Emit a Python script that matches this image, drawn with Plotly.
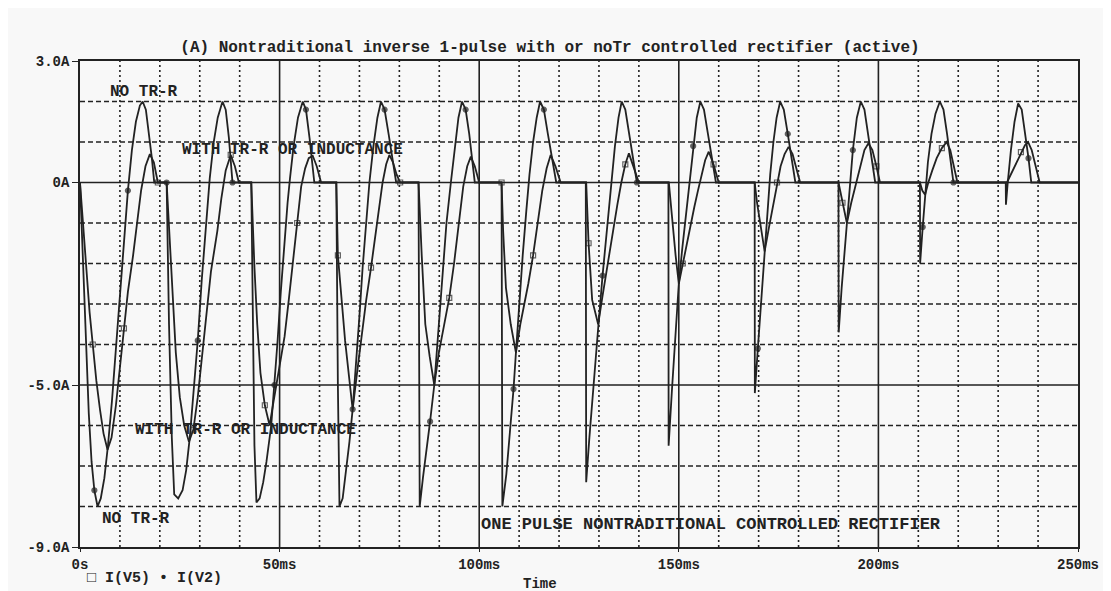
import plotly.graph_objects as go

# ---- data: (time in ms, current in A) ----
# I(V2) : "NO TR-R" (dot markers)
v2_points = [
    (0, 0), (0.7, -1.8), (1.5, -4.1), (2.2, -5.7), (2.9, -6.9), (3.6, -7.6), (4.4, -8.0), (5.2, -7.8), (6.1, -7.3),
    (7.0, -6.5), (8.0, -5.4), (9.0, -4.1), (10.0, -2.8), (11.0, -1.5), (12.0, -0.2), (13.0, 0.8), (14.0, 1.5),
    (15.0, 1.9), (15.7, 2.0), (16.5, 1.8), (17.3, 1.2), (18.0, 0.6), (18.6, 0),
    (21.7, 0), (22.3, -3.5), (23.0, -6.3), (23.6, -7.7), (24.6, -7.8), (25.7, -7.6), (26.6, -7.1), (27.5, -6.3),
    (28.5, -5.2), (29.5, -3.9), (30.5, -2.4), (31.5, -1.1), (32.5, 0.1), (33.5, 1.0), (34.5, 1.6), (35.7, 2.0),
    (36.5, 1.8), (37.3, 1.1), (38.2, 0),
    (42.9, 0), (43.3, -3.5), (43.7, -6.5), (44.2, -7.9), (45.0, -7.8), (45.9, -7.4), (46.7, -6.9), (47.9, -6.0),
    (48.7, -5.0), (49.5, -3.9), (50.3, -2.7), (51.1, -1.6), (52.0, -0.5), (52.6, 0.1), (53.5, 0.9), (54.6, 1.6),
    (55.8, 2.0), (56.6, 1.8), (57.5, 1.1), (58.7, 0),
    (64.2, 0), (64.6, -5.0), (65.0, -8.0), (65.8, -7.8), (66.7, -7.1), (67.5, -6.4), (68.3, -5.6), (69.2, -4.5),
    (70.0, -3.3), (70.8, -2.1), (71.7, -1.0), (72.5, 0.0), (73.5, 0.9), (74.5, 1.6), (75.4, 2.0), (76.3, 1.8),
    (77.3, 1.2), (78.2, 0.6), (79.2, 0),
    (84.8, 0), (84.9, -5.0), (85.1, -8.0), (85.9, -7.3), (86.7, -6.7), (87.7, -5.9), (88.75, -5.0), (89.8, -3.6),
    (90.8, -2.2), (91.8, -1.0), (92.9, 0.0), (93.9, 0.9), (94.8, 1.6), (95.7, 2.0), (96.6, 1.8), (97.5, 1.2),
    (98.2, 0.6), (98.9, 0),
    (105.6, 0), (105.7, -5.0), (105.8, -8.0), (106.8, -7.2), (107.8, -6.1), (108.6, -5.1), (109.2, -4.2),
    (110.0, -3.0), (110.9, -1.8), (111.8, -0.7), (112.6, 0.2), (113.5, 1.0), (114.4, 1.6), (115.25, 2.0),
    (116.2, 1.8), (117.2, 1.2), (118.2, 0.6), (119.3, 0),
    (126.7, 0), (126.8, -7.4), (127.6, -6.3), (128.6, -5.0), (129.8, -3.6), (130.9, -2.3), (132.0, -1.1),
    (133.0, 0.0), (134.0, 0.9), (134.9, 1.6), (135.7, 2.0), (136.6, 1.8), (137.6, 1.2), (138.5, 0.6), (139.5, 0),
    (147.4, 0), (147.45, -6.5), (148.3, -5.1), (149.1, -3.8), (150.0, -2.5), (150.9, -1.6), (151.7, -0.9),
    (152.7, 0.1), (153.6, 0.9), (154.5, 1.6), (155.4, 2.0), (156.3, 1.8), (157.3, 1.2), (158.3, 0.6), (159.3, 0),
    (169.0, 0), (169.05, -5.2), (169.8, -4.1), (170.7, -2.8), (171.5, -1.7), (172.2, -0.7), (172.9, 0.2),
    (173.7, 1.0), (174.5, 1.6), (175.4, 2.0), (176.3, 1.8), (177.3, 1.2), (178.2, 0.6), (179.2, 0),
    (190.0, 0), (190.05, -3.7), (190.8, -2.6), (191.5, -1.7), (192.1, -1.0), (192.8, -0.1), (193.6, 0.8),
    (194.6, 1.6), (195.6, 2.0), (196.5, 1.8), (197.4, 1.2), (198.3, 0.6), (199.2, 0),
    (210.4, 0), (210.45, -2.0), (211.1, -1.1), (211.7, -0.3), (212.4, 0.5), (213.3, 1.2), (214.3, 1.7),
    (215.4, 2.0), (216.3, 1.8), (217.2, 1.2), (218.0, 0.6), (218.8, 0),
    (231.9, 0), (231.95, -0.55), (232.4, 0.0), (233.2, 0.8), (234.1, 1.5), (235.0, 1.95), (235.9, 1.8),
    (236.8, 1.2), (237.6, 0.6), (238.3, 0), (250, 0),
]

# I(V5) : "WITH TR-R OR INDUCTANCE" (square markers)
v5_points = [
    (0, 0), (0.8, -1.1), (1.6, -2.2), (2.4, -3.2), (3.2, -4.0), (4.1, -4.9), (5.0, -5.6), (5.9, -6.2), (6.9, -6.6),
    (7.9, -6.3), (9.0, -5.5), (10.0, -4.6), (11.0, -3.6), (12.0, -2.7), (13.3, -1.8), (14.3, -1.0), (15.3, -0.2),
    (16.4, 0.4), (17.5, 0.7), (18.5, 0.5), (19.5, 0),
    (21.7, 0), (22.5, -1.5), (23.3, -3.0), (24.0, -4.2), (25.0, -5.3), (26.1, -6.0), (27.3, -6.4), (28.4, -6.1),
    (29.5, -5.3), (30.6, -4.3), (31.7, -3.2), (32.8, -2.2), (34.4, -1.2), (35.4, -0.4), (36.5, 0.3), (37.75, 0.68),
    (38.8, 0.4), (39.8, 0),
    (42.9, 0), (43.2, -0.9), (43.7, -2.1), (44.4, -3.5), (45.2, -4.7), (46.3, -5.5), (47.5, -6.0), (48.5, -5.4),
    (49.5, -4.8), (50.4, -4.3), (51.25, -3.8), (52.3, -2.9), (53.4, -1.9), (54.4, -1.0), (55.4, -0.1),
    (56.4, 0.35), (57.3, 0.6), (58.3, 0.66), (59.3, 0.4), (60.4, 0),
    (64.2, 0), (64.6, -1.8), (65.4, -2.8), (66.4, -3.9), (67.4, -4.8), (68.3, -5.6), (69.4, -4.7), (70.5, -3.8),
    (71.7, -2.9), (72.9, -2.1), (73.9, -1.4), (74.9, -0.6), (75.8, 0.0), (76.7, 0.45), (77.5, 0.68), (78.4, 0.5),
    (79.3, 0.2), (80.2, 0),
    (84.8, 0), (85.6, -1.8), (86.5, -3.5), (87.6, -4.3), (88.75, -5.0), (89.9, -4.2), (91.2, -3.5), (92.5, -2.85),
    (93.7, -2.0), (94.8, -1.1), (96.0, -0.1), (97.0, 0.4), (97.9, 0.64), (98.9, 0.4), (100.0, 0),
    (105.6, 0), (106.0, -1.2), (106.7, -2.6), (107.9, -3.5), (109.2, -4.2), (110.3, -3.5), (111.3, -3.0),
    (112.3, -2.5), (113.5, -1.8), (114.7, -1.0), (115.8, -0.2), (116.9, 0.35), (117.9, 0.68), (119.1, 0.4),
    (120.4, 0),
    (126.8, 0), (127.4, -1.5), (128.3, -2.9), (129.8, -3.5), (130.9, -2.8), (132.0, -2.1), (133.3, -1.3),
    (134.6, -0.55), (135.6, 0.0), (136.6, 0.45), (137.5, 0.72), (138.7, 0.4), (140.0, 0),
    (147.5, 0), (148.3, -0.9), (149.2, -1.8), (150.0, -2.5), (151.0, -2.0), (152.1, -1.5), (153.0, -1.0),
    (153.9, -0.6), (154.8, -0.2), (155.7, 0.2), (156.6, 0.55), (157.5, 0.76), (158.7, 0.45), (160.0, 0),
    (169.0, 0), (169.6, -0.5), (170.5, -1.1), (171.5, -1.7), (172.6, -1.1), (173.7, -0.5), (174.6, 0.0),
    (175.5, 0.4), (176.5, 0.7), (177.5, 0.88), (178.5, 0.7), (179.4, 0.35), (180.4, 0),
    (190.0, 0), (191.0, -0.5), (192.1, -1.0), (193.2, -0.5), (194.3, -0.05), (195.4, 0.4), (196.5, 0.8),
    (197.5, 0.97), (198.5, 0.8), (199.5, 0.4), (200.4, 0),
    (210.4, 0), (211.0, -0.2), (211.7, -0.3), (212.5, 0.0), (213.5, 0.3), (214.6, 0.6), (215.9, 0.85),
    (217.1, 1.0), (218.0, 0.8), (218.9, 0.4), (219.8, 0),
    (232.2, 0), (233.4, 0.25), (234.6, 0.5), (235.7, 0.75), (236.7, 0.92), (237.5, 1.0), (238.4, 0.8),
    (239.4, 0.4), (240.4, 0), (250, 0),
]

x_tick_vals = [0, 50, 100, 150, 200, 250]
x_tick_text = ["0s", "50ms", "100ms", "150ms", "200ms", "250ms"]
y_tick_vals = [3, 0, -5, -9]
y_tick_text = ["3.0A", "0A", "-5.0A", "-9.0A"]

title_text = "(A) Nontraditional inverse 1-pulse with or noTr controlled rectifier (active)"
labels = [
    (7, 2.23, "NO TR-R", 16),
    (25, 0.8, "WITH TR-R OR INDUCTANCE", 16),
    (13.3, -6.1, "WITH TR-R OR INDUCTANCE", 16),
    (5, -8.3, "NO TR-R", 16),
    (100, -8.45, "ONE PULSE NONTRADITIONAL CONTROLLED RECTIFIER", 17),
]

# ---- styling ----
INK = "#222222"
BG = "#f8f8f8"
FONT = "Liberation Mono"
# the page body adds an 8 px offset; figure is sized so the plot area lands at x 80-1082, y 61-547
OFF = 8
W, H = 1111 - OFF, 591 - OFF
PL, PR, PT, PB = 80 - OFF, 1082 - OFF, 61 - OFF, 547 - OFF

fig = go.Figure()


def add_series(points, name, symbol, every, offset):
    xs = [p[0] for p in points]
    ys = [p[1] for p in points]
    sizes = [5 if (i % every) == offset else 0 for i in range(len(xs))]
    fig.add_trace(go.Scatter(
        x=xs, y=ys, mode="lines+markers", name=name,
        line=dict(color=INK, width=1.8),
        marker=dict(symbol=symbol, size=sizes, color=INK,
                    line=dict(color=INK, width=1.2)),
        showlegend=False, hoverinfo="skip",
    ))


add_series(v5_points, "I(V5)", "square-open", 8, 4)
add_series(v2_points, "I(V2)", "circle", 9, 5)

shapes = []
for v in range(-8, 3):
    solid = v in (0, -5)
    shapes.append(dict(type="line", xref="x", yref="y", x0=0, x1=250, y0=v, y1=v,
                       line=dict(color=INK, width=1.4 if solid else 1.3,
                                 dash="solid" if solid else "5px,3px"),
                       layer="below"))
for t in range(10, 250, 10):
    solid = t % 50 == 0
    shapes.append(dict(type="line", xref="x", yref="y", x0=t, x1=t, y0=-9, y1=3,
                       line=dict(color=INK, width=1.6,
                                 dash="solid" if solid else "2px,3px"),
                       layer="below"))

annotations = []
for (tx, ty, txt, fs) in labels:
    annotations.append(dict(x=tx, y=ty, xref="x", yref="y", text=txt, showarrow=False,
                            xanchor="left", yanchor="middle",
                            font=dict(family=FONT, size=fs, color=INK, weight="bold")))


def px_to_paper(px, py):
    return (px - PL) / (PR - PL), (PB - py) / (PB - PT)


lx, ly = px_to_paper(85 - OFF, 578 - OFF)
annotations.append(dict(x=lx, y=ly, xref="paper", yref="paper",
                        text="\u25a1 I(V5) \u2022 I(V2)", showarrow=False,
                        xanchor="left", yanchor="middle",
                        font=dict(family=FONT, size=15, color=INK, weight="bold")))
tx_, ty_ = px_to_paper(542 - OFF, 584 - OFF)
annotations.append(dict(x=tx_, y=ty_, xref="paper", yref="paper",
                        text="Time", showarrow=False, xanchor="center", yanchor="middle",
                        font=dict(family=FONT, size=14, color=INK, weight="bold")))

fig.update_layout(
    width=W, height=H,
    margin=dict(l=PL, r=W - PR, t=PT, b=H - PB, pad=0),
    paper_bgcolor=BG, plot_bgcolor=BG,
    title=dict(text=title_text, x=(550 - OFF) / W, xanchor="center", xref="container",
               y=1 - (46 - OFF) / H, yanchor="middle", yref="container",
               font=dict(family=FONT, size=16, color=INK, weight="bold")),
    shapes=shapes, annotations=annotations,
    xaxis=dict(range=[0, 250], tickmode="array", tickvals=x_tick_vals, ticktext=x_tick_text,
               showgrid=False, zeroline=False, showline=True, mirror=True,
               linecolor=INK, linewidth=1.6, ticks="outside", ticklen=3, tickcolor=INK,
               tickfont=dict(family=FONT, size=14, color=INK, weight="bold")),
    yaxis=dict(range=[-9, 3], tickmode="array", tickvals=y_tick_vals, ticktext=y_tick_text,
               showgrid=False, zeroline=False, showline=True, mirror=True,
               linecolor=INK, linewidth=1.6, ticks="outside", ticklen=6, tickcolor=INK,
               tickfont=dict(family=FONT, size=14, color=INK, weight="bold")),
)

fig.write_html("out.html")
